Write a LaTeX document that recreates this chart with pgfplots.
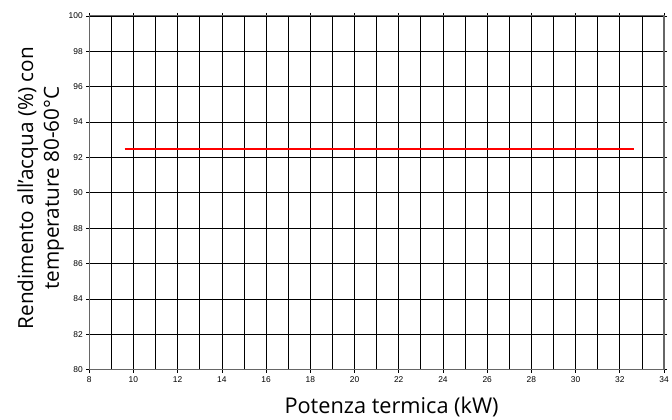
\documentclass[border=0pt]{standalone}
\usepackage{pgfplots}
\pgfplotsset{compat=1.18}
\usepackage{fontspec}
\setmainfont{Liberation Sans}
\newfontfamily\labelfont{Open Sans}

\begin{document}
\begin{tikzpicture}
\begin{axis}[
    scale only axis,
    width=580bp, height=357bp,
    xmin=8, xmax=34, ymin=80, ymax=100,
    xtick={8,10,...,34}, ytick={80,82,...,100},
    minor x tick num=1,
    grid=both,
    major grid style={black, line width=0.7bp},
    minor grid style={black, line width=0.7bp},
    axis line style={black!60, line width=1.2bp},
    tick style={black, line width=0.7bp},
    tick align=outside, major tick length=3bp, minor tick length=0pt,
    ticklabel style={font=\fontsize{8.5}{10}\selectfont},
    /pgf/number format/assume math mode=true,
    xticklabel shift=1bp, yticklabel shift=0bp,
    xlabel={Potenza termica (kW)},
    ylabel={Rendimento all’acqua (\%) con\\temperature 80-60°C},
    xlabel style={font=\labelfont\fontsize{22}{26}\selectfont, at={(axis description cs:0.526,-0.104)}, anchor=center},
    ylabel style={font=\labelfont\fontsize{21}{26}\selectfont, align=center, at={(axis description cs:-0.0845,0.513)}, anchor=center, rotate=0},
]
\addplot[red, line width=2bp] coordinates {(9.6,92.5) (32.65,92.5)};
\end{axis}
\useasboundingbox ([shift={(-90bp,-46bp)}]current axis.south west) rectangle ([shift={(2bp,16bp)}]current axis.north east);
\end{tikzpicture}
\end{document}
